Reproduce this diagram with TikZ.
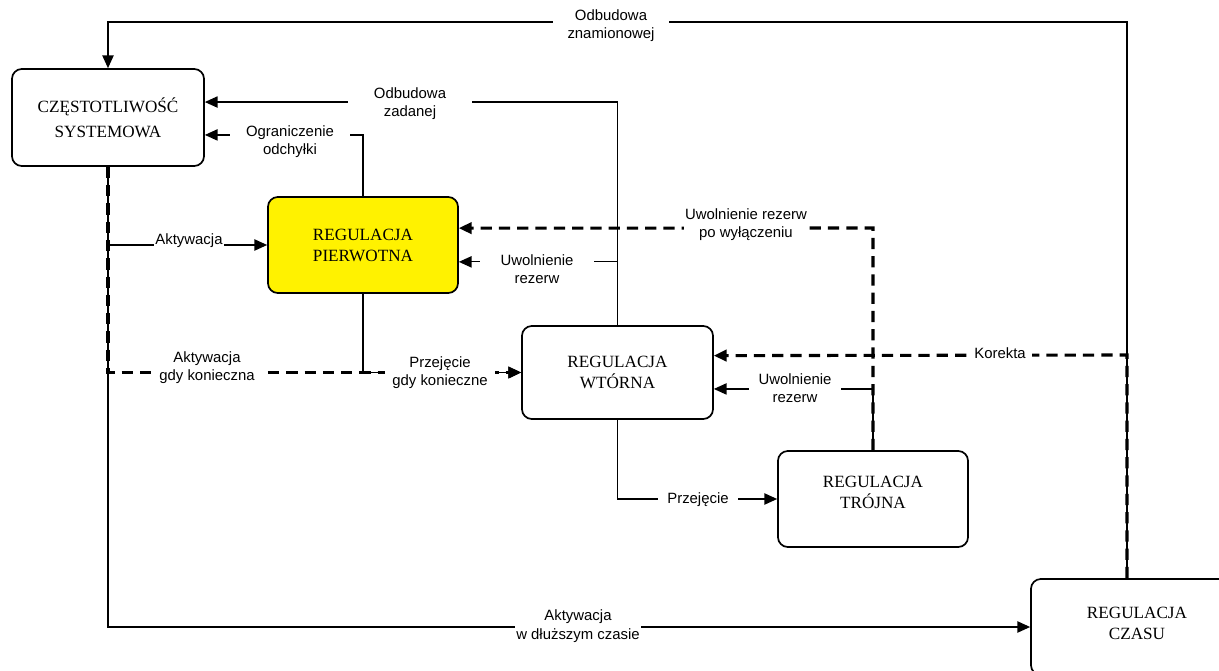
\documentclass[tikz,border=0pt]{standalone}
\usepackage{fontspec}
\setmainfont{Liberation Serif}
\newfontfamily\lblfamily{Liberation Sans}
\usepackage{tikz}
\usetikzlibrary{arrows.meta}

\tikzset{
  box/.style={draw, line width=1.2pt, rounded corners=7pt, inner sep=0pt, align=center,
    font=\fontsize{12.2}{15}\selectfont, minimum width=4.75cm, minimum height=2.4cm},
  lbl/.style={fill=white, inner xsep=1pt, inner ysep=0pt, align=center,
    font=\lblfamily\fontsize{10.6}{13}\selectfont},
  conn/.style={line width=0.8pt, -{Triangle[length=9pt,width=8pt]}},
  dconn/.style={line width=2.2pt, dash pattern=on 8pt off 5pt, -{Triangle[length=9pt,width=8pt]}},
}

\begin{document}
\begin{tikzpicture}[x=0.025cm,y=-0.025cm]
        \useasboundingbox (0,0) rectangle (1219,671);
        \clip (0,0) rectangle (1219,671);
        %% blocks
        \node[box, minimum width=4.8cm, minimum height=2.425cm] (czest) at (108,117.5) {CZĘSTOTLIWOŚĆ\\[3pt]SYSTEMOWA};
        \node[box, fill=yellow] (pierw) at (363,245) {REGULACJA\\PIERWOTNA};
        \node[box, minimum width=4.775cm, minimum height=2.325cm] (wtorna) at (617.5,372.5) {REGULACJA\\WTÓRNA};
        \node[box] (trojna) at (873,499) {REGULACJA\\TRÓJNA\\[-6pt]};
        \node[box, minimum width=5.3cm] (czas) at (1137,627) {REGULACJA\\CZASU\\[-10pt]};
        \coordinate (rtop) at (1127,22);
        \coordinate (rkor) at (1127,355);
        \coordinate (ldash) at (108,372.5);
        \coordinate (mdash) at (873,228);
        %% solid connectors
        \draw[conn] (czas.north -| rtop) -- (rtop) -| (czest.north);
        \draw[conn] (czest.south) |- (czas.west);
        \draw[conn] (czest.south |- pierw.west) -- (pierw.west);
        \draw[conn] (pierw.north) |- ([yshift=-12.4pt]czest.east);
        \draw[conn] (wtorna.north) |- ([yshift=11pt]czest.east);
        \draw[conn] (wtorna.north) |- ([yshift=-12pt]pierw.east);
        \draw[conn] (pierw.south) |- (wtorna.west);
        \draw[conn] (trojna.north) |- ([yshift=-11.7pt]wtorna.east);
        \draw[conn] (wtorna.south) |- (trojna.west);
        %% dashed connectors
        \draw[dconn] (czest.south) -- (ldash) -- (wtorna.west);
        \draw[dconn] (trojna.north) -- (mdash) -- ([yshift=12pt]pierw.east);
        \draw[dconn] (czas.north -| rtop) -- (rkor) -- ([yshift=12pt]wtorna.east);
        %% labels
        \node[lbl, minimum width=2.875cm] (lznam) at (611,26) {Odbudowa\\znamionowej};
        \node[lbl, minimum width=3.1cm] (lzad) at (410,104) {Odbudowa\\zadanej};
        \node[lbl, minimum width=2.975cm] (logr) at (290,142) {Ograniczenie\\odchyłki};
        \node[lbl] (lakt) at (189,241) {Aktywacja};
        \node[lbl, minimum width=2.7cm] (laktk) at (207,368) {Aktywacja\\gdy konieczna};
        \node[lbl, minimum width=2.75cm] (lprzk) at (440,373) {Przejęcie\\gdy konieczne};
        \node[lbl, minimum width=2.85cm] (luwp) at (537,269) {Uwolnienie\\rezerw};
        \node[lbl] (luwpw) at (746,225) {Uwolnienie rezerw\\po wyłączeniu};
        \node[lbl, minimum width=2.275cm] (luww) at (795,388) {Uwolnienie\\rezerw};
        \node[lbl, minimum width=1.6cm] (lkor) at (1000,353) {Korekta};
        \node[lbl, minimum width=2cm] (lprz) at (698,500) {Przejęcie};
        \node[lbl] (lakd) at (578,626) {Aktywacja\\w dłuższym czasie};
\end{tikzpicture}
\end{document}
